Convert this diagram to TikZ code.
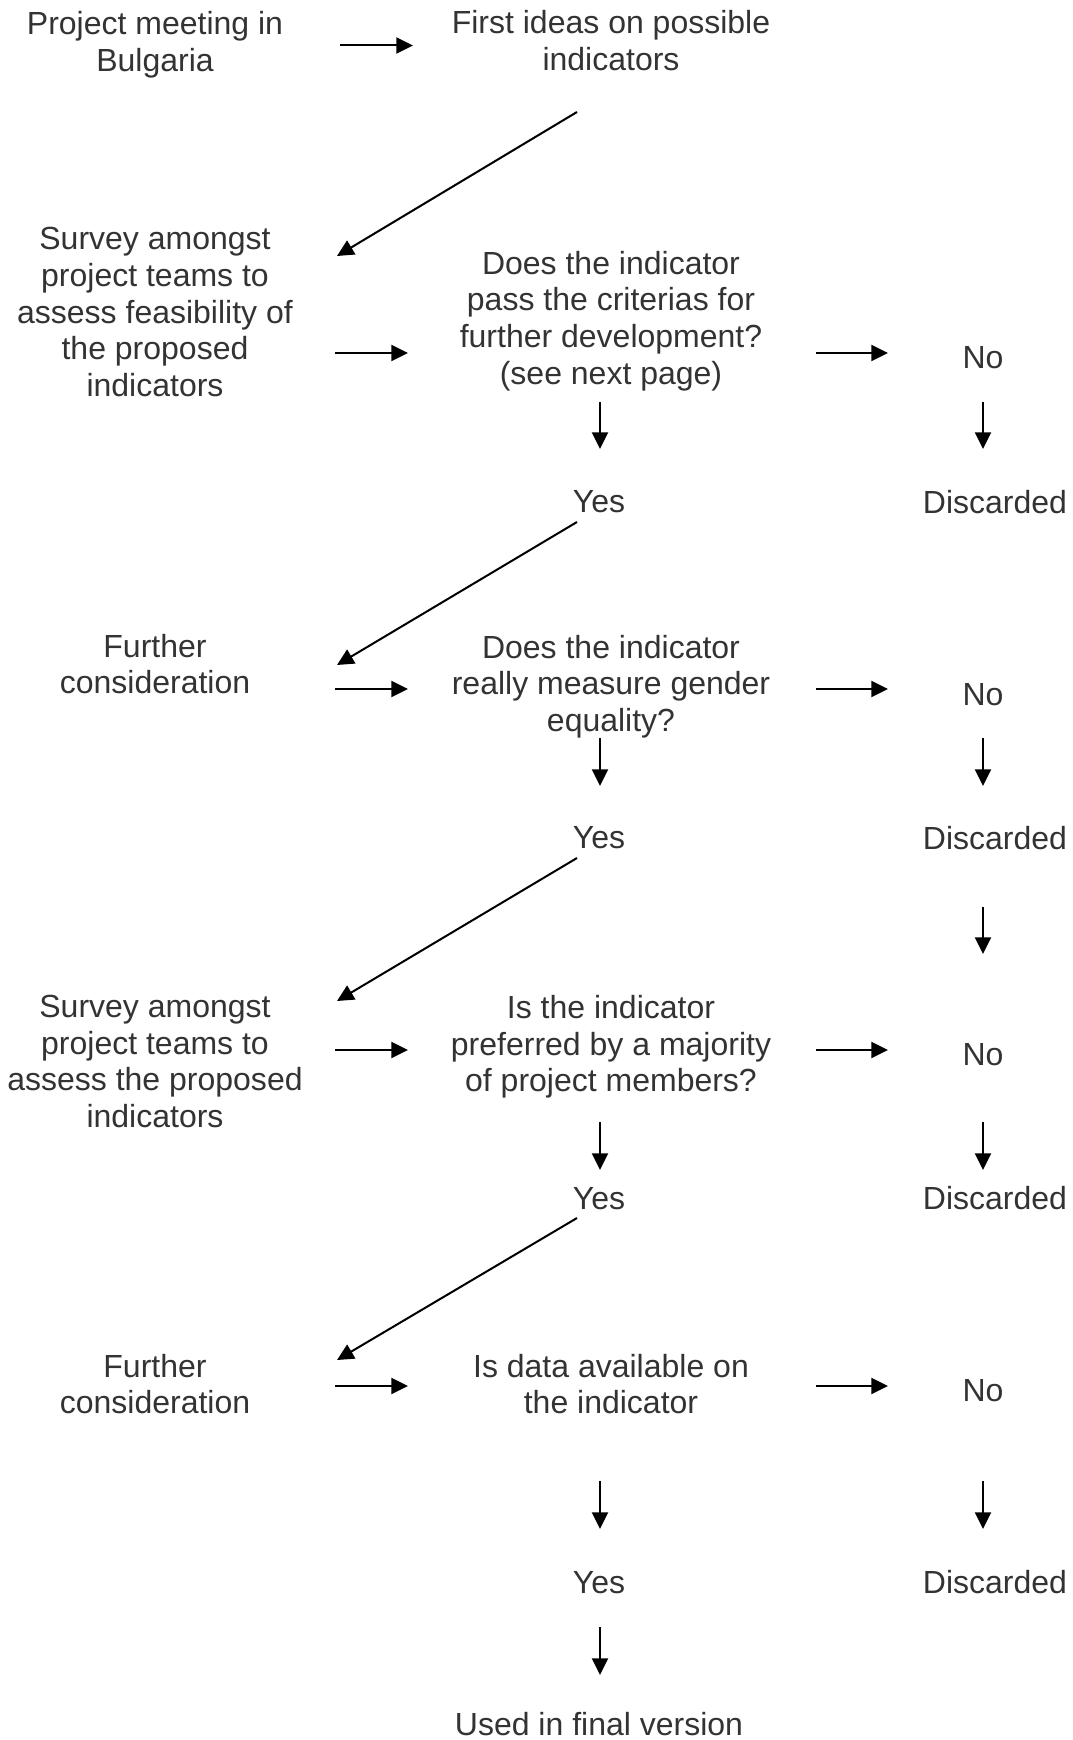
\documentclass[tikz,border=0pt]{standalone}
\usepackage{fontspec}
\setmainfont{Liberation Sans}
\usetikzlibrary{arrows.meta,calc}
\definecolor{txt}{HTML}{333333}
\begin{document}
\begin{tikzpicture}[x=0.75pt,y=-0.75pt,
  lbl/.style={inner sep=0pt,outer sep=0pt,align=center,text=txt,font=\fontsize{24}{27.5}\selectfont},
  arr/.style={draw=black,line width=1.5pt,-{Triangle[length=12.5pt,width=12pt]}}]
\useasboundingbox (0,0) rectangle (1072,1740);
% nodes
\node[lbl] (p0) at (155,44.5) {Project meeting in\\Bulgaria};
\node[lbl] (f0) at (611,40.5) {First ideas on possible\\indicators};
\node[lbl] (s1) at (155,312) {Survey amongst\\project teams to\\assess feasibility of\\the proposed\\indicators};
\node[lbl] (q1) at (611,321) {Does the indicator\\pass the criterias for\\further development?\\(see next page)};
\node[lbl] (n1) at (983,358) {No};
\node[lbl] (y1) at (599,502) {Yes};
\node[lbl] (d1) at (995,502) {Discarded};
\node[lbl] (s2) at (155,664) {Further\\consideration};
\node[lbl] (q2) at (611,686.5) {Does the indicator\\really measure gender\\equality?};
\node[lbl] (n2) at (983,694.5) {No};
\node[lbl] (y2) at (599,838) {Yes};
\node[lbl] (d2) at (995,838) {Discarded};
\node[lbl] (s3) at (155,1061.5) {Survey amongst\\project teams to\\assess the proposed\\indicators};
\node[lbl] (q3) at (611,1047) {Is the indicator\\preferred by a majority\\of project members?};
\node[lbl] (n3) at (983,1055) {No};
\node[lbl] (y3) at (599,1198.5) {Yes};
\node[lbl] (d3) at (995,1198.5) {Discarded};
\node[lbl] (s4) at (155,1384) {Further\\consideration};
\node[lbl] (q4) at (611,1384) {Is data available on\\the indicator};
\node[lbl] (n4) at (983,1391) {No};
\node[lbl] (y4) at (599,1582.5) {Yes};
\node[lbl] (d4) at (995,1582.5) {Discarded};
\node[lbl] (u) at (599,1724) {Used in final version};
% connectors
\draw[arr] ($(p0)+(185,1)$) -- ($(f0)+(-198,5)$);
\draw[arr] ($(f0)+(-34,71.5)$) -- ($(s1)+(182,-56)$);
\draw[arr] ($(s1)+(180,41)$) -- ($(q1)+(-203,32)$);
\draw[arr] ($(q1)+(205,32)$) -- ($(n1)+(-95,-5)$);
\draw[arr] ($(q1)+(-11,81)$) -- ($(y1)+(1,-53)$);
\draw[arr] ($(n1)+(0,44)$) -- ($(d1)+(-12,-53)$);
\draw[arr] ($(y1)+(-22,20)$) -- ($(s2)+(182,1)$);
\draw[arr] ($(s2)+(180,25)$) -- ($(q2)+(-203,2.5)$);
\draw[arr] ($(q2)+(205,2.5)$) -- ($(n2)+(-95,-5.5)$);
\draw[arr] ($(q2)+(-11,51.5)$) -- ($(y2)+(1,-52)$);
\draw[arr] ($(n2)+(0,43.5)$) -- ($(d2)+(-12,-52)$);
\draw[arr] ($(d2)+(-12,69)$) -- ($(n3)+(0,-101)$);
\draw[arr] ($(y2)+(-22,20)$) -- ($(s3)+(182,-60.5)$);
\draw[arr] ($(s3)+(180,-11.5)$) -- ($(q3)+(-203,3)$);
\draw[arr] ($(q3)+(205,3)$) -- ($(n3)+(-95,-5)$);
\draw[arr] ($(q3)+(-11,75)$) -- ($(y3)+(1,-28.5)$);
\draw[arr] ($(n3)+(0,67)$) -- ($(d3)+(-12,-28.5)$);
\draw[arr] ($(y3)+(-22,19.5)$) -- ($(s4)+(182,-24)$);
\draw[arr] ($(s4)+(180,2)$) -- ($(q4)+(-203,2)$);
\draw[arr] ($(q4)+(205,2)$) -- ($(n4)+(-95,-5)$);
\draw[arr] ($(q4)+(-11,97)$) -- ($(y4)+(1,-53.5)$);
\draw[arr] ($(n4)+(0,90)$) -- ($(d4)+(-12,-53.5)$);
\draw[arr] ($(y4)+(1,44.5)$) -- ($(u)+(1,-49)$);
\end{tikzpicture}
\end{document}
